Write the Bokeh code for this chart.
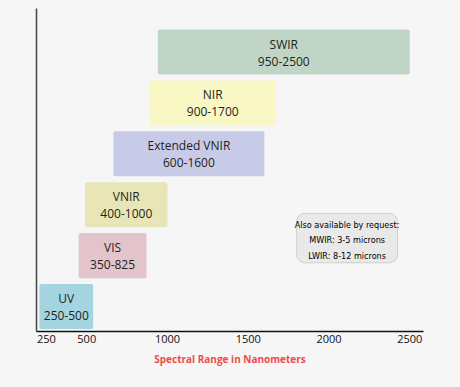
from bokeh.plotting import figure
from bokeh.models import Range1d, LinearAxis, FixedTicker, ColumnDataSource
from bokeh.core.properties import value
from bokeh.embed import file_html
from bokeh.resources import INLINE

# Data
bands = ["UV", "VIS", "VNIR", "Extended VNIR", "NIR", "SWIR"]
ranges = ["250-500", "350-825", "400-1000", "600-1600", "900-1700", "950-2500"]
bar_start = [207, 450, 490, 665, 890, 940]
bar_end = [540, 870, 1000, 1600, 1670, 2500]
rows = [0, 1, 2, 3, 4, 5]
colors = ["#a4d4df", "#e3c4ca", "#e8e6b6", "#c8cbe7", "#f9f7c3", "#c0d5c6"]
tick_values = [250, 500, 1000, 1500, 2000, 2500]
note_lines = ["Also available by request:", "MWIR: 3-5 microns", "LWIR: 8-12 microns"]

BG = "#f6f6f6"
H = 0.885

src = ColumnDataSource(dict(
    left=bar_start, right=bar_end,
    bottom=[r - H / 2 for r in rows], top=[r + H / 2 for r in rows],
    color=colors, band=bands, rng=ranges,
    xc=[(a + b) / 2 for a, b in zip(bar_start, bar_end)], y=rows,
))

p = figure(width=460, height=387, output_backend="svg", toolbar_location=None,
           x_range=Range1d(189, 2585), y_range=Range1d(-0.49, 5.855),
           x_axis_type=None, y_axis_type=None,
           min_border_left=36, min_border_right=37, min_border_top=8, min_border_bottom=56)
p.background_fill_color = BG
p.border_fill_color = BG
p.outline_line_color = None
p.grid.visible = False

p.quad(left="left", right="right", bottom="bottom", top="top", source=src,
       fill_color="color", line_color=None, border_radius=2)

p.text(x="xc", y="y", text="band", source=src, y_offset=-8,
       text_align="center", text_baseline="middle", text_font=value("Open Sans"),
       text_font_size="12px", text_color="#231f20")
p.text(x="xc", y="y", text="rng", source=src, y_offset=9,
       text_align="center", text_baseline="middle", text_font=value("Open Sans"),
       text_font_size="12px", text_color="#231f20")

# note box
p.quad(left=[1800], right=[2424], bottom=[0.86], top=[1.83], fill_color="#e9e9e9",
       line_color="#cfcfcf", line_width=1, border_radius=8)
note_y = [1.61, 1.30, 1.00]
p.text(x=[2112] * 3, y=note_y, text=note_lines, text_align="center", text_baseline="middle",
       text_font=value("'DejaVu Sans Condensed', 'Liberation Sans', sans-serif"),
       text_font_size="9px", text_color="#000000")

xa = LinearAxis(ticker=FixedTicker(ticks=tick_values))
xa.axis_line_color = "#111111"
xa.axis_line_width = 1.5
xa.major_tick_line_color = None
xa.minor_tick_line_color = None
xa.major_tick_out = 0
xa.major_tick_in = 0
xa.major_label_standoff = 3
xa.major_label_text_font = "Open Sans"
xa.major_label_text_font_size = "11px"
xa.major_label_text_color = "#111111"
xa.axis_label = "Spectral Range in Nanometers"
xa.axis_label_text_font = "Open Sans"
xa.axis_label_text_font_style = "bold"
xa.axis_label_text_font_size = "10px"
xa.axis_label_text_color = "#ef4b4b"
xa.axis_label_standoff = 6
p.add_layout(xa, "below")

ya = LinearAxis(ticker=FixedTicker(ticks=[]))
ya.axis_line_color = "#444444"
ya.axis_line_width = 1.5
ya.major_tick_line_color = None
ya.minor_tick_line_color = None
ya.major_label_text_font_size = "0px"
p.add_layout(ya, "left")

html = file_html(p, INLINE)
html = html.replace("<head>", "<head><style>html,body{background:#f6f6f6;}</style>", 1)
open("out.html", "w").write(html)
